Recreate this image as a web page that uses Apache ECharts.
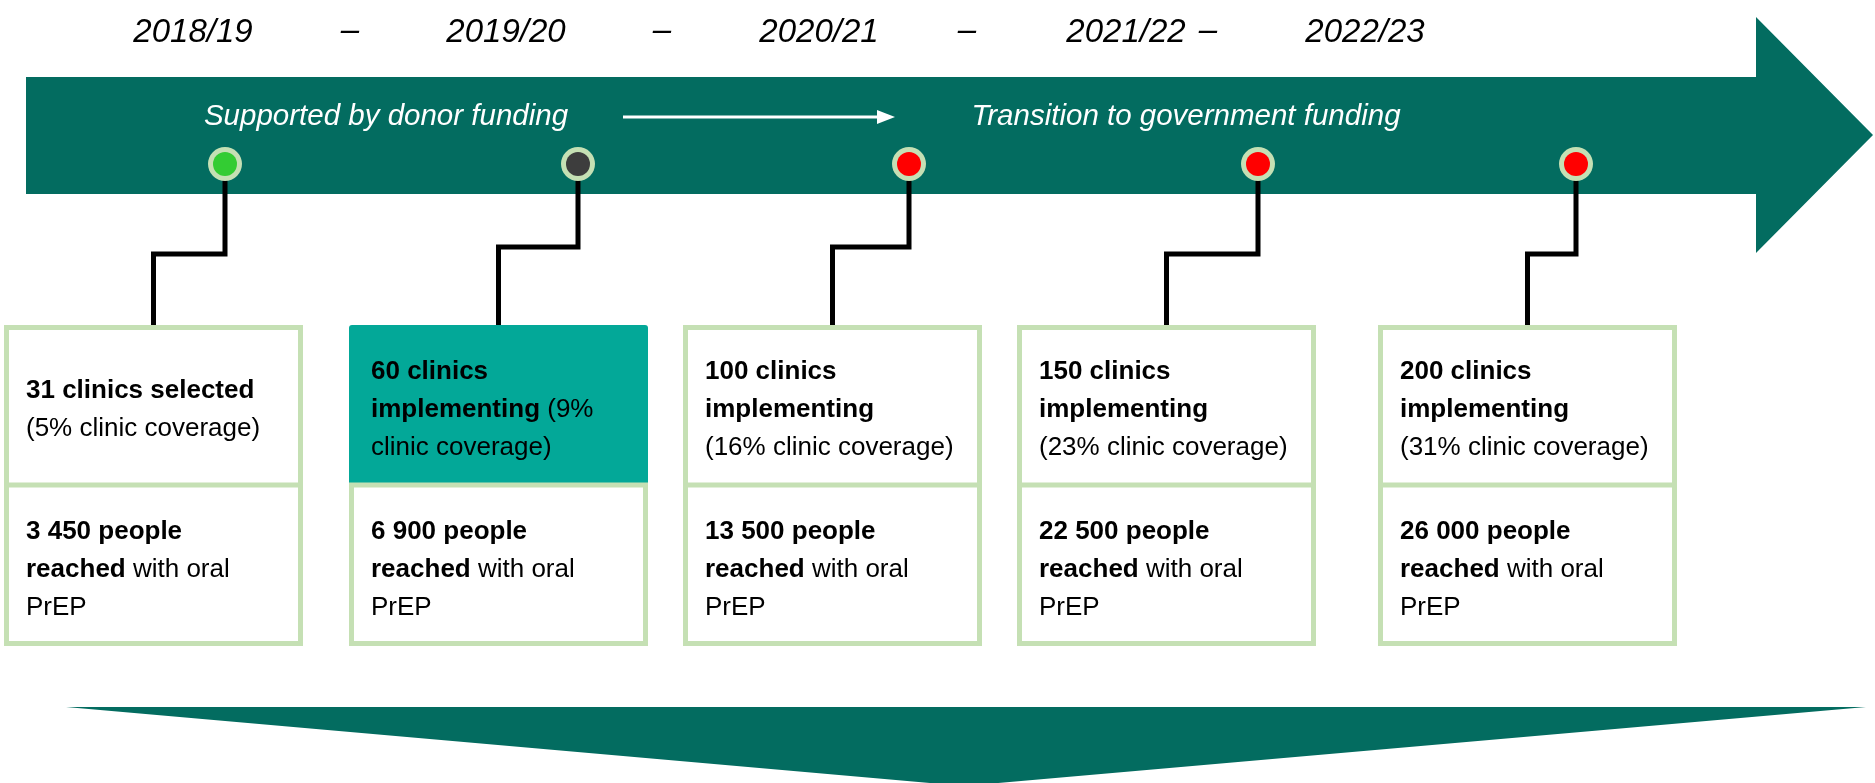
<!DOCTYPE html>
<html>
<head>
<meta charset="utf-8">
<script src="https://cdn.jsdelivr.net/npm/echarts@6/dist/echarts.min.js"></script>
<style>
  html, body { margin: 0; padding: 0; background: #fff; }
  #chart { width: 1875px; height: 783px; }
</style>
</head>
<body>
<div id="chart"></div>
<script>
// values
const years = ['2018/19', '2019/20', '2020/21', '2021/22', '2022/23'];
const clinics = [31, 60, 100, 150, 200];
const clinicStage = ['selected', 'implementing', 'implementing', 'implementing', 'implementing'];
const coverage = [5, 9, 16, 23, 31];
const peopleReached = [3450, 6900, 13500, 22500, 26000];
const fundingPhases = ['Supported by donor funding', 'Transition to government funding'];

// layout (pixel space of the hidden axes)
const W = 1875, H = 783;
const yearX = [193, 506, 819, 1126, 1365];
const dashX = [350, 662, 967, 1208];
const dotX = [225, 578, 909, 1258, 1576];
const elbowY = [254, 247, 247, 254, 254];
const boxLeft = [4, 349, 683, 1017, 1378];
const boxW = 299, boxTop = 325, boxMid = 485, boxBottom = 646;
const dotY = 164;

const DARK = '#036c60', TEAL = '#03a898', LIGHT = '#c5e0b4';
const dotFill = ['#33cc33', '#3d3d3d', '#ff0000', '#ff0000', '#ff0000'];
const FONT = '"Liberation Sans", Arial, sans-serif';

const fmt = n => String(n).replace(/\B(?=(\d{3})+(?!\d))/g, ' ');

function topText(i) {
  if (i === 0) return `{b|${clinics[i]} clinics ${clinicStage[i]}}\n{n|(${coverage[i]}% clinic coverage)}`;
  if (i === 1) return `{b|${clinics[i]} clinics}\n{b|${clinicStage[i]}} {n|(${coverage[i]}%}\n{n|clinic coverage)}`;
  return `{b|${clinics[i]} clinics}\n{b|${clinicStage[i]}}\n{n|(${coverage[i]}% clinic coverage)}`;
}
function bottomText(i) {
  return `{b|${fmt(peopleReached[i])} people}\n{b|reached} {n|with oral}\n{n|PrEP}`;
}
const rich = {
  b: { fontFamily: FONT, fontSize: 26, fontWeight: 'bold', color: '#000', lineHeight: 38 },
  n: { fontFamily: FONT, fontSize: 26, color: '#000', lineHeight: 38 }
};

const chart = echarts.init(document.getElementById('chart'));

chart.setOption({
  animation: false,
  grid: { left: 0, right: 0, top: 0, bottom: 0 },
  xAxis: { type: 'value', min: 0, max: W, show: false },
  yAxis: { type: 'value', min: 0, max: H, inverse: true, show: false },
  series: [
    {
      // timeline band, its arrow head, the bottom arrow and the funding captions
      type: 'custom',
      data: [[0]],
      silent: true,
      z: 1,
      renderItem: (params, api) => {
        const p = (x, y) => api.coord([x, y]);
        const a = p(623, 117), b = p(880, 117);
        return {
          type: 'group',
          children: [
            { type: 'polygon', shape: { points: [p(26, 77), p(1756, 77), p(1756, 17), p(1873, 135), p(1756, 253), p(1756, 194), p(26, 194)] }, style: { fill: DARK } },
            { type: 'polygon', shape: { points: [p(66, 707), p(1866, 707), p(964, 786)] }, style: { fill: DARK } },
            { type: 'line', shape: { x1: a[0], y1: a[1], x2: b[0], y2: b[1] }, style: { stroke: '#fff', lineWidth: 3 } },
            { type: 'polygon', shape: { points: [p(877, 110), p(895, 117), p(877, 124)] }, style: { fill: '#fff' } },
            { type: 'text', x: p(386, 117)[0], y: p(386, 117)[1], style: { text: fundingPhases[0], fill: '#fff', font: 'italic 29.5px ' + FONT, align: 'center', verticalAlign: 'middle' } },
            { type: 'text', x: p(1186, 117)[0], y: p(1186, 117)[1], style: { text: fundingPhases[1], fill: '#fff', font: 'italic 29.5px ' + FONT, align: 'center', verticalAlign: 'middle' } }
          ]
        };
      }
    },
    {
      // year labels and dashes
      type: 'custom',
      data: years.map((y, i) => [i]),
      silent: true,
      z: 2,
      renderItem: (params, api) => {
        const i = api.value(0);
        const c = api.coord([yearX[i], 33]);
        const children = [
          { type: 'text', x: c[0], y: c[1], style: { text: years[i], fill: '#000', font: 'italic 33px ' + FONT, align: 'center', verticalAlign: 'middle' } }
        ];
        if (i < dashX.length) {
          const d = api.coord([dashX[i], 31]);
          children.push({ type: 'text', x: d[0], y: d[1], style: { text: '–', fill: '#000', font: 'italic 33px ' + FONT, align: 'center', verticalAlign: 'middle' } });
        }
        return { type: 'group', children };
      }
    },
    {
      // milestones: dot, connector, two-part box
      type: 'custom',
      data: years.map((y, i) => [i]),
      silent: true,
      z: 3,
      renderItem: (params, api) => {
        const i = api.value(0);
        const L = boxLeft[i], cx = L + boxW / 2;
        const d = api.coord([dotX[i], dotY]);
        const tl = api.coord([L, boxTop]);
        const mid = api.coord([L, boxMid]);
        const br = api.coord([L + boxW, boxBottom]);
        const w = br[0] - tl[0];
        const children = [];
        children.push({
          type: 'polyline',
          shape: { points: [d, api.coord([dotX[i], elbowY[i]]), api.coord([cx, elbowY[i]]), api.coord([cx, boxTop])] },
          style: { stroke: '#000', lineWidth: 5, fill: null, lineJoin: 'miter' }
        });
        children.push({ type: 'circle', shape: { cx: d[0], cy: d[1], r: 17 }, style: { fill: LIGHT } });
        children.push({ type: 'circle', shape: { cx: d[0], cy: d[1], r: 12 }, style: { fill: dotFill[i] } });
        if (i === 1) {
          children.push({ type: 'rect', shape: { x: tl[0], y: tl[1], width: w, height: mid[1] - tl[1], r: [3, 3, 0, 0] }, style: { fill: TEAL } });
        } else {
          children.push({ type: 'rect', shape: { x: tl[0] + 2.5, y: tl[1] + 2.5, width: w - 5, height: mid[1] - tl[1] }, style: { fill: '#fff', stroke: LIGHT, lineWidth: 5 } });
        }
        children.push({ type: 'rect', shape: { x: tl[0] + 2.5, y: mid[1], width: w - 5, height: br[1] - mid[1] - 2.5 }, style: { fill: '#fff', stroke: LIGHT, lineWidth: 5 } });
        children.push({
          type: 'text', x: tl[0] + 22, y: (tl[1] + mid[1]) / 2 + 5,
          style: { text: topText(i), rich, font: '26px ' + FONT, align: 'left', verticalAlign: 'middle' }
        });
        children.push({
          type: 'text', x: tl[0] + 22, y: (mid[1] + br[1]) / 2 + 4,
          style: { text: bottomText(i), rich, font: '26px ' + FONT, align: 'left', verticalAlign: 'middle' }
        });
        return { type: 'group', children };
      }
    }
  ]
});
</script>
</body>
</html>
